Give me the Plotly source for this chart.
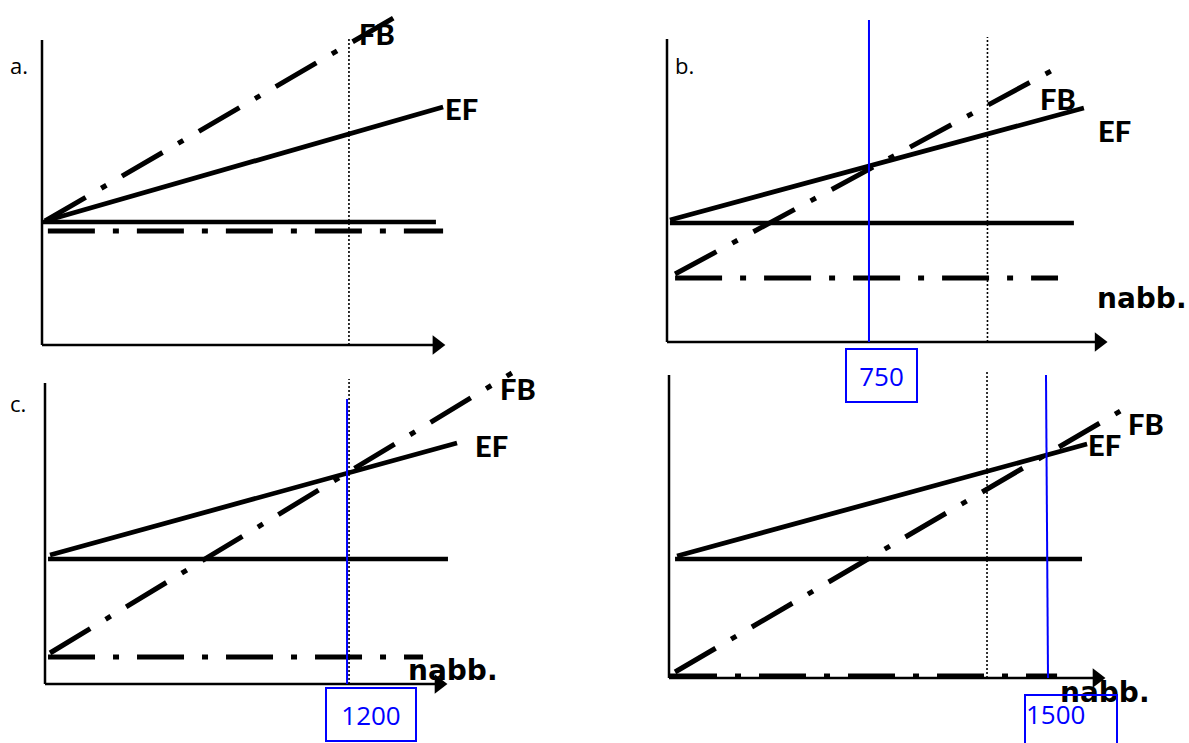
import plotly.graph_objects as go

W, H = 1189, 743

# ---------------- data (quantity on x, cost on y) ----------------
panels = ["a", "b", "c", "d"]

# EF (solid sloped line)
ef_x = {"a": [12, 1568], "b": [11, 1548], "c": [20, 1637], "d": [32, 1659]}
ef_y = {"a": [496, 952], "b": [488, 936], "c": [516, 964], "d": [488, 936]}
# FB (dash-dot sloped line)
fb_x = {"a": [12, 1407], "b": [30, 1433], "c": [20, 1855], "d": [24, 1798]}
fb_y = {"a": [496, 1328], "b": [272, 1088], "c": [124, 1244], "d": [24, 1072]}
# fixed level (solid horizontal line)
fix_x = {"a": [0, 1540], "b": [11, 1511], "c": [12, 1601], "d": [24, 1639]}
fix_y = {"a": [492, 492], "b": [476, 476], "c": [500, 500], "d": [476, 476]}
# "nabb." level (dash-dot horizontal line)
nabb_x = {"a": [23, 1568], "b": [30, 1452], "c": [12, 1502], "d": [4, 1540]}
nabb_y = {"a": [456, 456], "b": [256, 256], "c": [108, 108], "d": [8, 8]}
# dotted capacity line
cap_x = {"a": 1200, "b": 1190, "c": 1208, "d": 1262}
cap_top = {"a": 1232, "b": 1220, "c": 1220, "d": 1224}
# blue break-even lines
blue_x = {"b": [750, 750], "c": [1200, 1200], "d": [1504, 1496]}
blue_y = {"b": [0, 1288], "c": [0, 1140], "d": [0, 1212]}
blue_label = {"b": "750", "c": "1200", "d": "1500"}
# axes extents
xaxis_end = {"a": 1575, "b": 1634, "c": 1597, "d": 1730}
yaxis_end = {"a": 1220, "b": 1212, "c": 1204, "d": 1212}
panel_label = {"a": "a.", "b": "b.", "c": "c."}

# ---------------- layout geometry (pixels) ----------------
geo = {
    "a": dict(ox=42, oy=345, sx=0.2558, sy=0.25),
    "b": dict(ox=667, oy=342, sx=0.2693, sy=0.25),
    "c": dict(ox=45, oy=684, sx=0.2517, sy=0.25),
    "d": dict(ox=669, oy=678, sx=0.252, sy=0.25),
}


def to_data(p, px, py):
    g = geo[p]
    return (px - g["ox"]) / g["sx"], (g["oy"] - py) / g["sy"]


BLACK = "#000000"
BLUE = "#0000FF"
DASHDOT = "47px,18px,6px,18px"
LBL_FONT = dict(family="Lato", size=29, color=BLACK, weight=900)
NABB_FONT = dict(family="DejaVu Sans", size=28, color=BLACK, weight="bold")

fig = go.Figure()
layout = dict(
    width=W, height=H, margin=dict(l=0, r=0, t=0, b=0),
    paper_bgcolor="white", plot_bgcolor="rgba(0,0,0,0)",
    showlegend=False, annotations=[],
)

for i, p in enumerate(panels):
    g = geo[p]
    n = "" if i == 0 else str(i + 1)
    xa, ya = "x" + n, "y" + n
    layout["xaxis" + n] = dict(domain=[0, 1], visible=False, fixedrange=True,
                               range=[(0 - g["ox"]) / g["sx"], (W - g["ox"]) / g["sx"]],
                               anchor=ya)
    layout["yaxis" + n] = dict(domain=[0, 1], visible=False, fixedrange=True,
                               range=[(g["oy"] - H) / g["sy"], g["oy"] / g["sy"]],
                               anchor=xa)

    def add(x, y, color=BLACK, width=4.5, dash="solid"):
        fig.add_trace(go.Scatter(x=x, y=y, mode="lines", xaxis=xa, yaxis=ya,
                                 line=dict(color=color, width=width, dash=dash),
                                 hoverinfo="skip"))

    # axes
    add([0, 0], [0, yaxis_end[p]], width=2.5)
    tip_back = 8 / g["sx"]
    add([0, xaxis_end[p] - tip_back], [0, 0], width=2.5)
    fig.add_trace(go.Scatter(x=[xaxis_end[p] - tip_back], y=[0], mode="markers",
                             xaxis=xa, yaxis=ya, hoverinfo="skip",
                             marker=dict(symbol="triangle-right", size=17, color=BLACK)))
    # dotted capacity line
    add([cap_x[p], cap_x[p]], [0, cap_top[p]], width=1.6, dash="2px,2px")
    # lines
    add(fix_x[p], fix_y[p], width=4.5)
    add(nabb_x[p], nabb_y[p], width=5, dash=DASHDOT)
    add(ef_x[p], ef_y[p], width=4.8)
    add(fb_x[p], fb_y[p], width=5, dash=DASHDOT)

    # labels
    lbl_pos = {
        "a": dict(FB=(357, 33), EF=(443, 108)),
        "b": dict(FB=(1038, 98), EF=(1096, 130), nabb=(1095, 298)),
        "c": dict(FB=(498, 388), EF=(473, 445), nabb=(406, 670)),
        "d": dict(FB=(1126, 423), EF=(1086, 444), nabb=(1058, 692)),
    }[p]
    for key, txt in [("FB", "FB"), ("EF", "EF"), ("nabb", "nabb.")]:
        if key in lbl_pos:
            lx, ly = to_data(p, *lbl_pos[key])
            layout["annotations"].append(dict(
                x=lx, y=ly, xref=xa, yref=ya, text=txt, showarrow=False,
                xanchor="left", yanchor="middle",
                font=NABB_FONT if key == "nabb" else LBL_FONT))
    if p in panel_label:
        pos = {"a": (8, 65), "b": (673, 65), "c": (8, 403)}[p]
        lx, ly = to_data(p, *pos)
        layout["annotations"].append(dict(
            x=lx, y=ly, xref=xa, yref=ya, text=panel_label[p], showarrow=False,
            xanchor="left", yanchor="middle",
            font=dict(family="Open Sans", size=22, color=BLACK)))

    if p in blue_x:
        add(blue_x[p], blue_y[p], color=BLUE, width=2)
        box = {"b": (845, 918, 348, 403, "center"),
               "c": (325, 417, 687, 742, "center"),
               "d": (1024, 1118, 694, 752, "left")}[p]
        bx0, bx1, by0, by1, al = box
        cx, cy = to_data(p, (bx0 + bx1) / 2, (by0 + by1) / 2)
        layout["annotations"].append(dict(
            x=cx, y=cy, xref=xa, yref=ya, text=blue_label[p], showarrow=False,
            xanchor="center", yanchor="middle", align=al,
            width=bx1 - bx0 - 4, height=by1 - by0 - 4, borderpad=0,
            bordercolor=BLUE, borderwidth=2, bgcolor="rgba(0,0,0,0)",
            valign="top" if p == "d" else "middle",
            font=dict(family="Open Sans", size=26, color=BLUE)))

fig.update_layout(**layout)
fig.write_html(
    "out.html",
    config={"displayModeBar": False},
    post_script="document.body.style.margin='0';document.body.style.overflow='hidden';"
                "window.dispatchEvent(new Event('resize'));",
)
